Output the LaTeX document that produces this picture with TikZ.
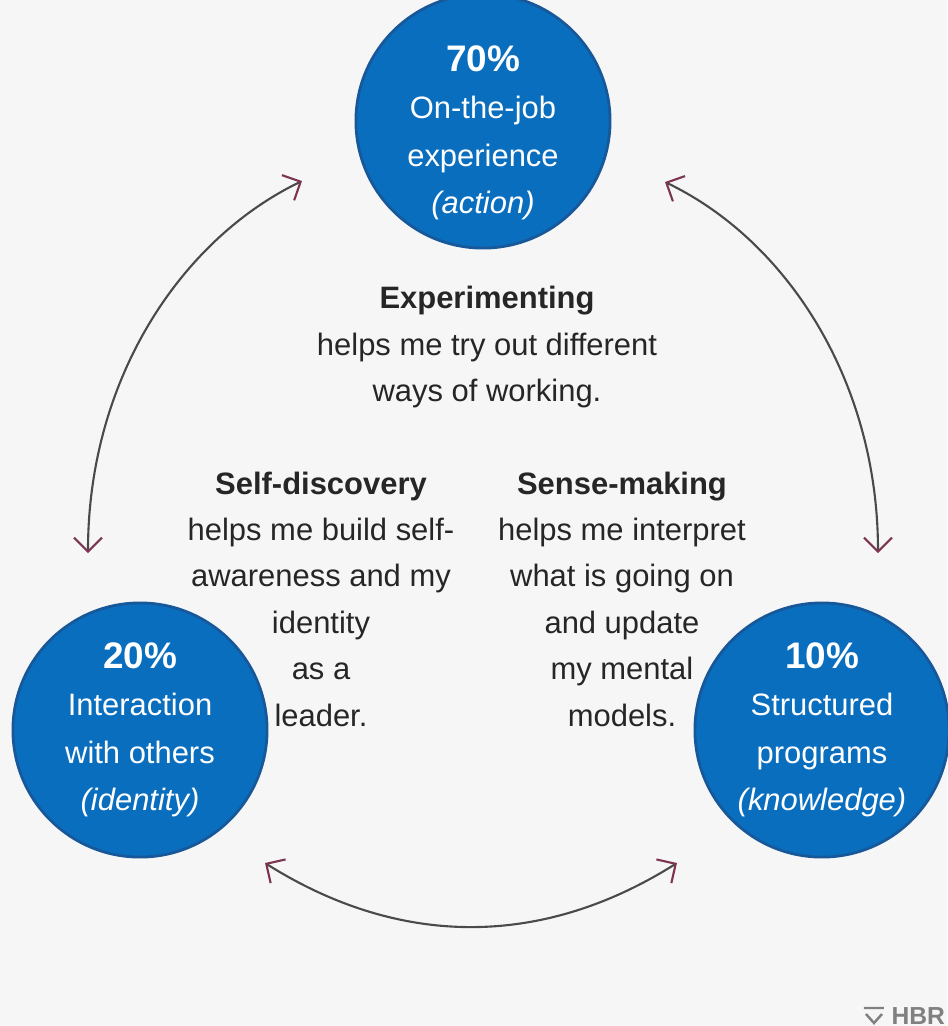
\documentclass[tikz,border=0pt]{standalone}
\usepackage{fontspec}
\setmainfont{Liberation Sans}
\usetikzlibrary{arrows.meta}
\definecolor{hbrblue}{HTML}{0A6EBF}
\definecolor{rimblue}{HTML}{17589A}
\definecolor{linegray}{HTML}{4A4A4A}
\definecolor{tipred}{HTML}{7D3352}
\definecolor{paper}{HTML}{F6F6F6}
\newcommand{\pcttext}[1]{{\fontsize{10.5pt}{13.5pt}\selectfont\bfseries #1}}
\begin{document}
\begin{tikzpicture}[x=0.01cm,y=-0.01cm,
    mode/.style={circle,fill=hbrblue,draw=rimblue,line width=0.8pt,
      minimum size=2.54cm,inner sep=0pt,text=white,align=center,
      font=\fontsize{8.8pt}{13.5pt}\selectfont},
    modetext/.style={text=white,align=center,
      font=\fontsize{8.8pt}{13.5pt}\selectfont},
    blurb/.style={align=center,text=black!85,
      font=\fontsize{8.8pt}{13.2pt}\selectfont},
    loopline/.style={draw=linegray,line width=0.6pt,
      >={Straight Barb[length=1.4mm,width=2.8mm,color=tipred]},<->}]
  \useasboundingbox[fill=paper] (0,0) rectangle (947,1026);
  % the three kinds of learning
  \node[mode] (job) at (483,121) {};
  \node[modetext] (jobtext) at (483,133)
    {\pcttext{70\%}\\On-the-job\\experience\\\textit{(action)}};
  \node[mode] (others) at (140,730)
    {\pcttext{20\%}\\Interaction\\with others\\\textit{(identity)}};
  \node[mode] (programs) at (822,730)
    {\pcttext{10\%}\\Structured\\programs\\\textit{(knowledge)}};
  % what links them
  \node[blurb] (exp) at (487,347)
    {\textbf{Experimenting}\\helps me try out different\\ways of working.};
  \node[blurb] (self) at (321,599)
    {\textbf{Self-discovery}\\helps me build self-\\awareness and my\\identity\\as a\\leader.};
  \node[blurb] (sense) at (622,599)
    {\textbf{Sense-making}\\helps me interpret\\what is going on\\and update\\my mental\\models.};
  % logo in the corner
  \node[anchor=west,inner sep=0pt,text=black!50,
    font=\fontsize{7pt}{8pt}\selectfont\bfseries] (hbr) at (891,1016) {HBR};
  \draw[black!50,line width=0.7pt] (864,1008) -- (884,1008)
    (866,1014) -- (874,1023) -- (882,1014);
  % arrow ends
  \coordinate (jobL) at (302,181);
  \coordinate (jobR) at (665,182);
  \coordinate (othersT) at (88,553);
  \coordinate (othersB) at (265,863);
  \coordinate (programsT) at (878,553);
  \coordinate (programsB) at (677,863);
  \begin{scope}[loopline]
    \draw (othersT) .. controls (88,380) and (180,240) .. (jobL);
    \draw (jobR) .. controls (786,240) and (878,380) .. (programsT);
    \draw (othersB) .. controls (400,948) and (542,948) .. (programsB);
  \end{scope}
\end{tikzpicture}
\end{document}
